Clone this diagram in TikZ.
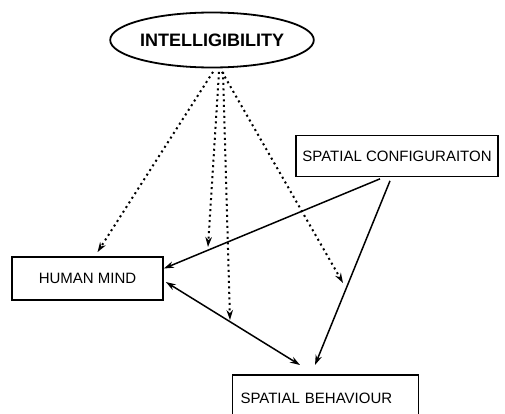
\documentclass[tikz,border=0pt]{standalone}
\usepackage{fontspec}
\setmainfont{Liberation Sans}
\usetikzlibrary{arrows.meta,shapes.geometric}
\tikzset{
    >={Stealth[length=10pt,width=6.5pt]},
    box/.style={draw, line width=1.7pt, inner sep=0pt, font=\fontsize{15}{17}\selectfont},
    flow/.style={line width=1.5pt},
    link/.style={line width=2pt, dash pattern=on 2pt off 3.5pt},
}
\begin{document}
\begin{tikzpicture}[x=1pt, y=-1pt]
    \useasboundingbox (0,0) rectangle (505,414);
    \node[draw, ellipse, line width=1.8pt, minimum width=159pt, minimum height=55pt, inner sep=0pt, font=\bfseries\fontsize{18}{20}\selectfont] (intel) at (212,40) {INTELLIGIBILITY};
    \node[box, minimum width=202pt, minimum height=41pt] (config) at (397,156) {SPATIAL CONFIGURAITON};
    \node[box, minimum width=151pt, minimum height=43pt] (mind) at (87.5,278.5) {HUMAN MIND};
    \node[box, anchor=north, text width=170pt, inner xsep=8pt, inner ysep=18pt, text height=11pt, text depth=20pt] (behav) at (325.5,374) {SPATIAL BEHAVIOUR};
    % free ends of the dotted links
    \coordinate (mindtop) at ([xshift=10pt,yshift=4pt]mind.north);
    \coordinate (d1) at (208,247);
    \coordinate (d2) at (230,320);
    \coordinate (d3) at (343,283);
    \foreach \s/\t in {1/mindtop, 7/d1, 11/d2, 10/d3} {
        \draw[link, ->] ([xshift=\s pt, yshift=-3.5pt]intel.south) -- (\t);
    };
    \draw[flow, ->] ([xshift=-17pt,yshift=-1.5pt]config.south) -- ([yshift=10pt]mind.east);
    \draw[flow, ->] ([xshift=-7pt,yshift=-3.5pt]config.south) -- ([xshift=-10.5pt,yshift=9pt]behav.north);
    \draw[flow, <->] ([xshift=2pt,yshift=-3.5pt]mind.east) -- ([xshift=-25.5pt,yshift=9pt]behav.north);
\end{tikzpicture}
\end{document}
